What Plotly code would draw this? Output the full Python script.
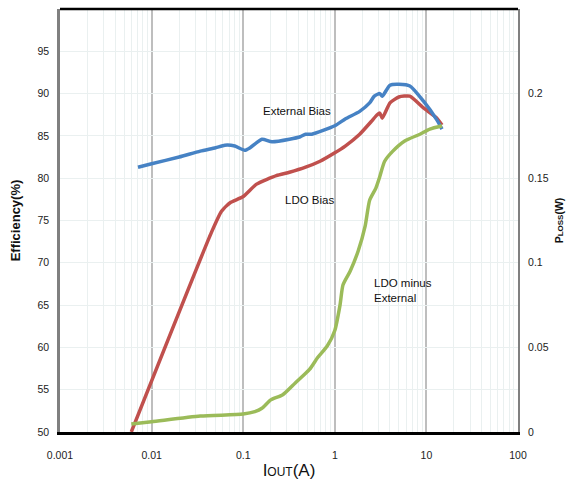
import plotly.graph_objects as go

# External Bias efficiency (%)
ext_x = [0.0071, 0.01, 0.02, 0.034, 0.05, 0.063, 0.081, 0.104, 0.119, 0.16, 0.206, 0.32, 0.42, 0.48, 0.56,
         1.0, 1.3, 1.87, 2.4, 2.7, 3.1, 3.3, 4.0, 5.0, 6.6, 9.3, 13, 14.8]
ext_y = [81.3, 81.7, 82.5, 83.2, 83.6, 83.9, 83.8, 83.3, 83.6, 84.6, 84.3, 84.6, 84.9, 85.2, 85.2,
         86.2, 87.0, 87.9, 88.9, 89.7, 90.0, 89.7, 91.0, 91.1, 90.9, 89.1, 86.9, 85.8]

# LDO Bias efficiency (%)
ldo_x = [0.006, 0.045, 0.058, 0.072, 0.099, 0.14, 0.23, 0.32, 0.48, 0.69, 1.0, 1.3, 1.87, 2.5, 2.9, 3.1,
         3.3, 4.0, 5.0, 6.6, 9.3, 13, 14.8]
ldo_y = [50.0, 73.6, 76.1, 77.1, 77.8, 79.3, 80.3, 80.7, 81.3, 82.0, 83.0, 83.8, 85.2, 86.7, 87.5, 87.7,
         87.1, 88.9, 89.6, 89.7, 88.3, 87.1, 86.3]

# LDO minus External power loss (W)
diff_x = [0.006, 0.01, 0.034, 0.1, 0.134, 0.16, 0.2, 0.27, 0.37, 0.53, 0.65, 0.83, 1.0, 1.14, 1.23, 1.47,
          1.8, 2.15, 2.4, 2.8, 3.1, 3.5, 4.3, 5.8, 8.5, 10.9, 14.8]
diff_y = [0.0047, 0.006, 0.0094, 0.0106, 0.012, 0.014, 0.019, 0.022, 0.029, 0.037, 0.044, 0.051, 0.060,
          0.075, 0.087, 0.095, 0.107, 0.122, 0.137, 0.144, 0.151, 0.160, 0.166, 0.172, 0.176, 0.179, 0.181]

x_ticks = [0.001, 0.01, 0.1, 1, 10, 100]
x_labels = ["0.001", "0.01", "0.1", "1", "10", "100"]
y_ticks = [50, 55, 60, 65, 70, 75, 80, 85, 90, 95]
y2_ticks = [0, 0.05, 0.1, 0.15, 0.2]
y2_labels = ["0", "0.05", "0.1", "0.15", "0.2"]

sans = "Liberation Sans, Arial, sans-serif"

fig = go.Figure()
fig.add_trace(go.Scatter(x=diff_x, y=diff_y, yaxis="y2", mode="lines",
                         line=dict(color="#9BBB59", width=3.5, shape="spline", smoothing=0.6),
                         name="LDO minus External"))
fig.add_trace(go.Scatter(x=ldo_x, y=ldo_y, mode="lines",
                         line=dict(color="#C0504D", width=3.5, shape="spline", smoothing=0.5),
                         name="LDO Bias"))
fig.add_trace(go.Scatter(x=ext_x, y=ext_y, mode="lines",
                         line=dict(color="#4682C4", width=3.5, shape="spline", smoothing=0.6),
                         name="External Bias"))

fig.update_layout(
    width=572, height=487,
    margin=dict(l=60, r=54, t=9, b=55),
    paper_bgcolor="white", plot_bgcolor="white",
    showlegend=False,
    font=dict(family=sans, size=10.5, color="#222"),
    xaxis=dict(type="log", range=[-3, 2], tickvals=x_ticks, ticktext=x_labels,
               showgrid=True, gridcolor="#BEBEBE", gridwidth=2,
               minor=dict(showgrid=True, gridcolor="#EAF0F0", gridwidth=1, dtick="D1", ticks=""),
               showline=True, linecolor="black", linewidth=2.5,
               ticks="outside", ticklen=12, tickcolor="rgba(0,0,0,0)",
               zeroline=False,
               title=dict(text="I<span style='font-size:12px'>OUT</span>(A)",
                          font=dict(family=sans, size=17, color="#111"), standoff=4)),
    yaxis=dict(range=[50, 100], tickvals=y_ticks, showgrid=True, gridcolor="#EAF0F0", gridwidth=1,
               showline=True, linecolor="#808080", linewidth=2.5,
               ticks="outside", ticklen=6, tickcolor="rgba(0,0,0,0)", zeroline=False,
               title=dict(text="<b>Efficiency(%)</b>", font=dict(family=sans, size=13, color="#111"),
                          standoff=14)),
    yaxis2=dict(overlaying="y", side="right", range=[0, 0.25], tickvals=y2_ticks, ticktext=y2_labels,
                showgrid=False, showline=True, linecolor="#808080", linewidth=2,
                ticks="outside", ticklen=6, tickcolor="rgba(0,0,0,0)", zeroline=False,
                title=dict(text="<b>P<span style='font-size:8px'>LOSS</span>(W)</b>",
                           font=dict(family=sans, size=10.5, color="#111"), standoff=8)),
    shapes=[dict(type="line", xref="paper", yref="paper", x0=0, x1=1, y0=1, y1=1,
                 line=dict(color="black", width=2.5))],
    annotations=[
        dict(x=0.518, xref="paper", y=87.9, yref="y", text="External Bias", showarrow=False,
             font=dict(family=sans, size=11.5, color="#111")),
        dict(x=0.544, xref="paper", y=77.4, yref="y", text="LDO Bias", showarrow=False,
             font=dict(family=sans, size=11.5, color="#111")),
        dict(x=0.681, xref="paper", y=66.7, yref="y", text="LDO minus<br>External", showarrow=False,
             xanchor="left", align="left", font=dict(family=sans, size=11.5, color="#111")),
    ],
)

fig.write_html("out.html")
